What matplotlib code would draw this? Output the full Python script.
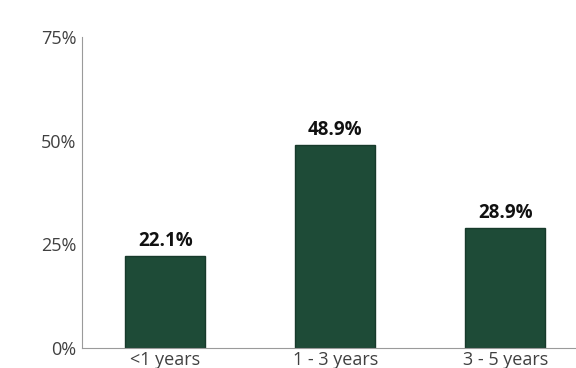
import matplotlib
matplotlib.use("Agg")
import matplotlib.pyplot as plt
from matplotlib.ticker import FuncFormatter

categories = ["<1 years", "1 - 3 years", "3 - 5 years"]
values = [22.1, 48.9, 28.9]
yticks = [0, 25, 50, 75]

plt.rcParams["font.family"] = ["Open Sans", "DejaVu Sans"]

fig = plt.figure(figsize=(5.76, 3.68), dpi=100)
ax = fig.add_axes([0.1424, 0.0543, 0.8576, 0.8452])

x = list(range(len(categories)))
bars = ax.bar(x, values, width=0.47, color="#1e4b37", edgecolor="#173a2b", linewidth=1.0)

for xi, v in zip(x, values):
    ax.annotate(f"{v:.1f}%", (xi, v), xytext=(0, 4), textcoords="offset points",
                ha="center", va="bottom", fontsize=13.5, fontweight="bold", color="#111111")

ax.set_xlim(-0.49, 2.416)
ax.set_ylim(0, 75)
ax.set_yticks(yticks)
ax.yaxis.set_major_formatter(FuncFormatter(lambda v, _: f"{v:.0f}%"))
ax.set_xticks(x)
ax.set_xticklabels(categories)

for side in ["top", "right"]:
    ax.spines[side].set_visible(False)
ax.spines["left"].set_color("#9a9a9a")
ax.spines["bottom"].set_color("#9a9a9a")
ax.tick_params(axis="y", length=0, pad=4, labelsize=13, labelcolor="#404040")
ax.tick_params(axis="x", length=0, pad=2, labelsize=13, labelcolor="#404040")

fig.savefig("out.png", dpi=100)
